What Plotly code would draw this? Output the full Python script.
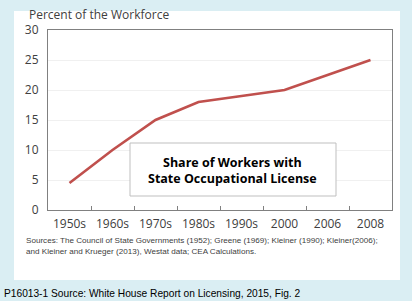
import plotly.graph_objects as go

categories = ["1950s", "1960s", "1970s", "1980s", "1990s", "2000", "2006", "2008"]
share = [4.5, 10, 15, 18, 19, 20, 22.5, 25]
y_ticks = [0, 5, 10, 15, 20, 25, 30]

FONT = "Open Sans"
W, H = 412, 301
L, R, T, B = 48, 20, 30, 91
pw, ph = W - L - R, H - T - B

def px(x):
    return (x - L) / pw

def py(y):
    return (H - B - y) / ph

fig = go.Figure()
fig.add_trace(go.Scatter(x=categories, y=share, mode="lines",
                         line=dict(color="#c0504d", width=2.6), hoverinfo="skip"))

shapes = [
    dict(type="rect", xref="paper", yref="paper", x0=px(14), x1=px(400), y0=py(280), y1=py(11),
         fillcolor="white", line=dict(width=0), layer="below"),
    dict(type="rect", xref="paper", yref="paper", x0=px(130), x1=px(336), y0=py(196), y1=py(143),
         fillcolor="white", line=dict(color="#bfbfbf", width=1), layer="above"),
]

annotations = [
    dict(text="Percent of the Workforce", xref="paper", yref="paper", x=px(27), y=py(14.5),
         xanchor="left", yanchor="middle", showarrow=False, font=dict(family=FONT, size=12, color="#404040")),
    dict(text="<b>Share of Workers with<br>State Occupational License</b>", xref="paper", yref="paper",
         x=px(233), y=py(170), xanchor="center", yanchor="middle", showarrow=False,
         font=dict(family=FONT, size=12.5, color="black")),
    dict(text="Sources: The Council of State Governments (1952); Greene (1969); Kleiner (1990); Kleiner(2006);<br>and Kleiner and Krueger (2013), Westat data; CEA Calculations.",
         xref="paper", yref="paper", x=px(24), y=py(245.5), xanchor="left", yanchor="middle", align="left",
         showarrow=False, font=dict(family="Liberation Sans", size=8.1, color="#404040")),
    dict(text="P16013-1 Source: White House Report on Licensing, 2015, Fig. 2", xref="paper", yref="paper",
         x=px(2), y=py(293), xanchor="left", yanchor="middle", showarrow=False,
         font=dict(family="Liberation Sans", size=10.2, color="black")),
]

fig.update_layout(
    width=W, height=H, margin=dict(l=L, r=R, t=T, b=B),
    paper_bgcolor="#daeef3", plot_bgcolor="white", showlegend=False,
    shapes=shapes, annotations=annotations,
    xaxis=dict(type="category", range=[-0.5, 7.5], tickson="boundaries", ticks="inside", ticklen=4,
               tickangle=0, automargin=False, ticklabelstandoff=3,
               tickcolor="#808080", showline=True, linecolor="#808080", linewidth=1, mirror=True,
               showgrid=False, tickfont=dict(family=FONT, size=12, color="#404040")),
    yaxis=dict(range=[0, 30], tickvals=y_ticks, showline=True, linecolor="#808080", linewidth=1, mirror=True,
               showgrid=True, gridcolor="#f0f0f0", zeroline=False, ticks="", ticklabelstandoff=6,
               automargin=False, tickfont=dict(family=FONT, size=12, color="#404040")),
)

fig.write_html("out.html")
